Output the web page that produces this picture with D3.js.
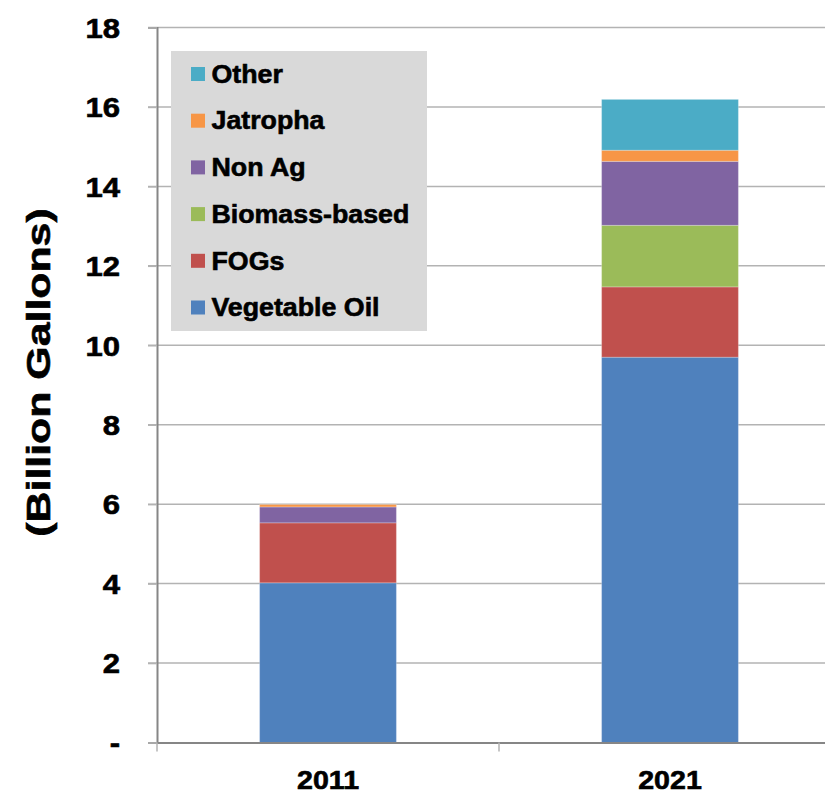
<!DOCTYPE html>
<html>
<head>
<meta charset="utf-8">
<script src="https://cdn.jsdelivr.net/npm/d3@7"></script>
<style>
  html, body { margin: 0; padding: 0; background: #fff; }
  svg { display: block; font-family: "Liberation Sans", Arial, sans-serif; }
  .heavy { stroke: #000; stroke-width: 0.6px; }
</style>
</head>
<body>
<svg id="chart" width="825" height="794"></svg>
<script>
// Biodiesel feedstock volumes, billion gallons
const years = ["2011", "2021"];
const seriesNames = ["Vegetable Oil", "FOGs", "Biomass-based", "Non Ag", "Jatropha", "Other"];
const vegetableOil = [4.02, 9.70];
const fogs = [1.51, 1.77];
const biomassBased = [0.00, 1.55];
const nonAg = [0.40, 1.61];
const jatropha = [0.06, 0.28];
const other = [0.00, 1.28];
const colors = ["#4f81bd", "#c0504d", "#9bbb59", "#8064a2", "#f79646", "#4bacc6"];
const yTicks = [0, 2, 4, 6, 8, 10, 12, 14, 16, 18];
const yTickLabels = ["-", "2", "4", "6", "8", "10", "12", "14", "16", "18"];

const seriesValues = [vegetableOil, fogs, biomassBased, nonAg, jatropha, other];
const rows = years.map((yr, i) => {
  const r = { year: yr };
  seriesNames.forEach((s, j) => { r[s] = seriesValues[j][i]; });
  return r;
});

// widen bold labels slightly (the chart's lettering is set wide)
function widen(sel, factor) {
  sel.each(function () {
    const w = this.getComputedTextLength();
    d3.select(this).attr("textLength", w * factor).attr("lengthAdjust", "spacingAndGlyphs");
  });
}

const svg = d3.select("#chart");
const plotLeft = 157, plotRight = 841, plotTop = 27.5, plotBottom = 742.5;

const x = d3.scaleBand().domain(years).range([plotLeft, plotRight]).paddingInner(0.6).paddingOuter(0.3);
const y = d3.scaleLinear().domain([0, 18]).range([plotBottom, plotTop]);

// gridlines
svg.append("g").selectAll("line").data(yTicks.filter(d => d > 0)).join("line")
  .attr("x1", plotLeft - 9).attr("x2", plotRight)
  .attr("y1", d => y(d)).attr("y2", d => y(d))
  .attr("stroke", "#b3b3b3").attr("stroke-width", 1.5);

// stacked bars
const stack = d3.stack().keys(seriesNames)(rows);
svg.append("g").selectAll("g").data(stack).join("g")
  .attr("fill", (d, i) => colors[i])
  .selectAll("rect").data(d => d.filter(p => p[1] - p[0] > 0)).join("rect")
  .attr("x", d => x(d.data.year))
  .attr("width", x.bandwidth())
  .attr("y", d => y(d[1]))
  .attr("height", d => y(d[0]) - y(d[1]))
  .attr("stroke", "rgba(255,255,255,0.25)").attr("stroke-width", 1);

// y axis
const yAxis = d3.axisLeft(y).tickValues(yTicks).tickFormat((d, i) => yTickLabels[i]).tickSize(9).tickPadding(28);
const gy = svg.append("g").attr("transform", `translate(${plotLeft},0)`).call(yAxis);
gy.attr("font-family", null).attr("font-size", null);
gy.select(".domain").attr("stroke", "#868686").attr("stroke-width", 2);
gy.selectAll(".tick line").attr("stroke", "#b3b3b3").attr("stroke-width", 1.5);
gy.selectAll(".tick text").attr("fill", "#000").attr("class", "heavy")
  .style("font-size", "27px").style("font-weight", "bold").attr("dy", "0.36em");
widen(gy.selectAll(".tick text"), 1.15);

// x axis
const xAxis = d3.axisBottom(x).tickSize(0).tickPadding(28);
const gx = svg.append("g").attr("transform", `translate(0,${plotBottom})`).call(xAxis);
gx.attr("font-family", null).attr("font-size", null);
gx.select(".domain").attr("stroke", "#868686").attr("stroke-width", 2);
gx.selectAll(".tick text").attr("fill", "#000").attr("class", "heavy")
  .style("font-size", "26px").style("font-weight", "bold");
widen(gx.selectAll(".tick text"), 1.1);
// category separators
const sepPositions = [plotLeft, (x(years[0]) + x.bandwidth() + x(years[1])) / 2, plotRight];
svg.append("g").selectAll("line").data(sepPositions).join("line")
  .attr("x1", d => d).attr("x2", d => d)
  .attr("y1", plotBottom).attr("y2", plotBottom + 9)
  .attr("stroke", "#b3b3b3").attr("stroke-width", 1.5);

// y title
const title = svg.append("text")
  .attr("class", "heavy")
  .attr("transform", `translate(49.5,372.5) rotate(-90)`)
  .attr("text-anchor", "middle")
  .style("font-size", "34px").style("font-weight", "bold")
  .text("(Billion Gallons)");
widen(title, 1.26);

// legend
const lg = svg.append("g");
lg.append("rect").attr("x", 171).attr("y", 51).attr("width", 256).attr("height", 280).attr("fill", "#d9d9d9");
const legendOrder = seriesNames.map((s, i) => ({ name: s, color: colors[i] })).reverse();
const item = lg.selectAll("g.item").data(legendOrder).join("g")
  .attr("class", "item")
  .attr("transform", (d, i) => `translate(191,${74 + i * 46.7})`);
item.append("rect").attr("x", 0).attr("y", -7).attr("width", 14).attr("height", 14).attr("fill", d => d.color);
const legendText = item.append("text").attr("class", "heavy").attr("x", 20.5).attr("y", 0).attr("dy", "0.35em")
  .style("font-size", "25px").style("font-weight", "bold").text(d => d.name);
widen(legendText, 1.07);
</script>
</body>
</html>
